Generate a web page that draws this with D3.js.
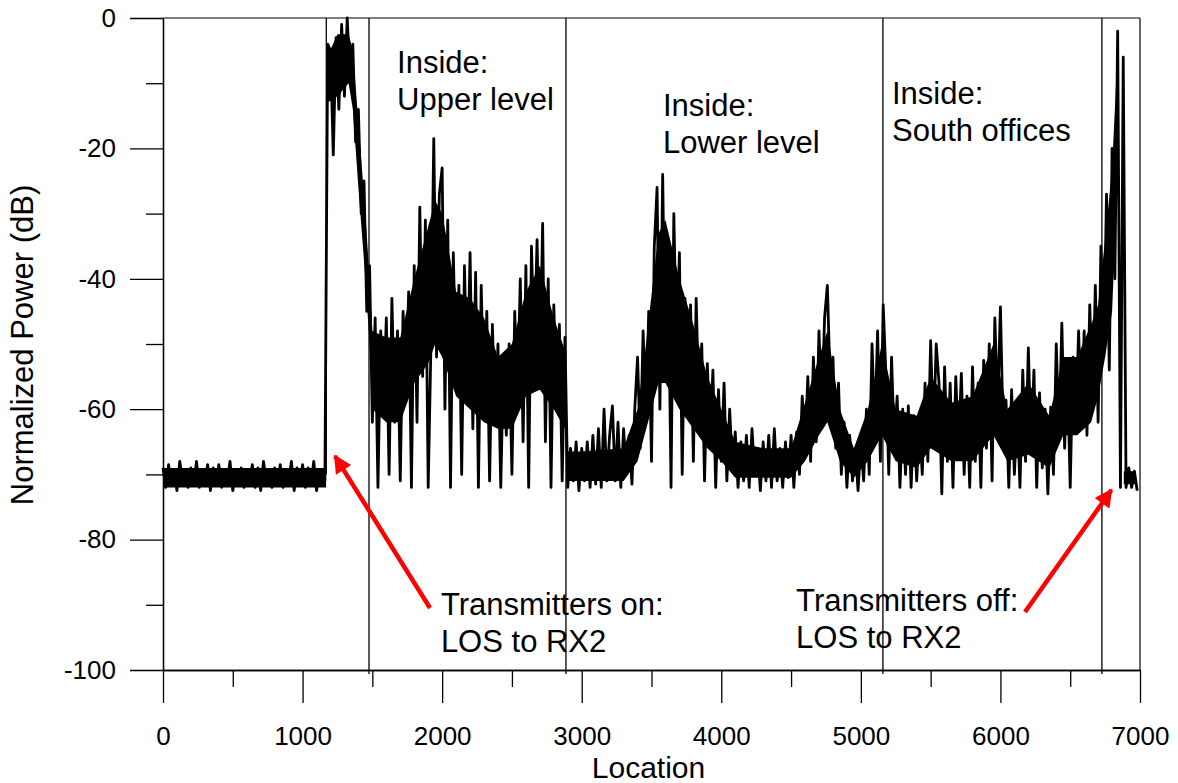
<!DOCTYPE html>
<html>
<head>
<meta charset="utf-8">
<script src="https://cdn.jsdelivr.net/npm/d3@7"></script>
<style>
    body { margin: 0; background: #fff; }
    text { font-family: Arial, "Liberation Sans", sans-serif; fill: #000; }
</style>
</head>
<body>
<div id="chart"></div>
<script>
// measured power, one reading every 20 location units starting at 0 (peaks and dips)
var sampleStart = 0;
var sampleStep = 20;
var power = [
    -69, -72, -68.5, -71.5, -69.5, -72.5, -68, -71, -70, -72,
    -69, -71.5, -68, -72, -69.5, -71, -68.5, -72.5, -69, -71.5,
    -68.5, -72, -69.5, -71, -68, -72.5, -70, -71.5, -69, -72,
    -69.5, -71, -68.5, -72, -69, -72.5, -68, -71, -70, -72,
    -69, -71.5, -68.5, -72, -69.5, -71, -68, -72.5, -69, -71.5,
    -68.5, -72, -69, -71.5, -68, -72.5, -69.5, -71, -71, -4,
    -5, -21, -3, -14, -1, -12, 0, -10, -4, -19,
    -14, -30, -25, -45, -38, -62, -46, -72, -48, -60,
    -46, -70, -43, -62, -48, -71, -45, -58, -42, -72,
    -38, -62, -29, -55, -31, -72, -50, -18.5, -52, -27,
    -23, -60, -31, -72, -36, -55, -41, -70, -38, -58,
    -36, -63, -39, -72, -41, -60, -45, -71, -47, -62,
    -50, -72, -52, -64, -50, -70, -45, -58, -40, -65,
    -38, -72, -35, -52, -34, -55, -31.5, -65, -40, -72,
    -44, -60, -47, -71, -49, -72, -66, -71, -65, -72.5,
    -66, -71, -65, -72, -64, -71.5, -63, -72, -60, -71,
    -64, -59.5, -71, -62, -72, -63, -70, -64, -71.5, -60,
    -52, -66, -48, -62, -45, -68, -35, -26, -60, -24,
    -55, -38, -72, -30, -52, -36, -70, -43, -58, -44,
    -68, -43, -60, -50, -71, -53, -65, -54, -72, -57,
    -68, -56, -71, -60, -69, -63.5, -72, -65, -71, -64,
    -72, -63, -70, -66, -72.5, -65, -71, -64, -72, -63,
    -71, -66, -72, -65, -70.5, -64, -72, -63.5, -70, -58,
    -66, -55, -68, -52, -65, -48, -61, -46, -41, -56,
    -52, -66, -56, -70, -62, -72, -64, -71, -66, -72.5,
    -65, -71, -60, -70, -50, -63, -48, -68, -44, -55,
    -70, -52, -66, -58, -72, -60, -70, -59.5, -72, -61,
    -71, -62, -70, -56, -68, -49.5, -64, -50, -56, -73,
    -53.5, -68, -56, -72, -55, -66, -54.5, -70, -58, -72,
    -53.5, -68, -56, -72, -52.5, -66, -50, -71, -46, -60,
    -44.3, -64, -58.6, -72, -57, -70, -60, -72, -54, -68,
    -50.6, -66, -54, -72, -57.5, -69, -60, -73, -59.7, -70,
    -50, -64, -46.8, -66, -54, -72, -52, -63, -48, -62,
    -48, -64, -44, -60, -41, -62, -35, -52, -27, -54,
    -20, -40, -2, -72, -6, -72, -69, -72, -69.5, -72.5
];

// solid core of the noisy trace: location, upper and lower edge (dB); null breaks the band
var coreLocation = [0, 1160, 1168, 1176, 1250, 1330, 1360, 1400, 1450, 1480, 1500, 1600, 1700, 1800, 1900, 1950,
    2000, 2100, 2200, 2300, 2400, 2500, 2600, 2700, 2800, 2880, 2886, 2892, 3000, 3300, 3400, 3450, 3550, 3600,
    3700, 3800, 3900, 4000, 4100, 4300, 4500, 4600, 4700, 4760, 4850, 4950, 5050, 5150, 5250, 5400, 5500,
    5650, 5800, 5950, 6050, 6200, 6350, 6450, 6550, 6650, 6700, 6750, 6800, 6840, 6850, 6884, 6970];
var coreTop = [-69, -69, -69, -6, -2.5, -2.5, -5, -16, -30, -40, -48, -49, -49, -40, -32, -28,
    -30, -42, -43, -46, -52, -50, -42, -38, -46, -51, -58, -66.5, -66.5, -66, -60, -52, -33, -31,
    -40, -47, -55, -60, -65, -66, -66, -59, -52, -48, -60, -66, -60, -50, -60, -61, -55,
    -59, -58, -50, -60, -56, -61, -52, -52, -47, -44, -34, -23, -5, null, -69.5, -69.5];
var coreBottom = [-72, -72, -72, -13, -12, -10, -14, -26, -40, -50, -60, -62, -62, -56, -53, -50,
    -52, -58, -60, -62, -63, -63, -58, -57, -60, -63, -66, -71, -71, -71, -68, -64, -56, -56,
    -60, -63, -66, -68, -70.5, -70.5, -70.5, -68, -64, -62, -68, -70.5, -68, -64, -68, -69, -66,
    -68, -68, -64, -68, -67, -69, -64, -64, -62, -58, -52, -45, -24, null, -71.5, -71.5];

// section boundaries (location, from dB, to dB)
var dividers = [
    {at: 1170, top: 0, bottom: -70},
    {at: 1476, top: 0, bottom: -100},
    {at: 2887, top: 0, bottom: -100},
    {at: 5158, top: 0, bottom: -100},
    {at: 6727, top: 0, bottom: -100}
];

var xTicks = [0, 1000, 2000, 3000, 4000, 5000, 6000, 7000];
var xMinorTicks = [500, 1500, 2500, 3500, 4500, 5500, 6500];
var yTicks = [-100, -80, -60, -40, -20, 0];
var yMinorTicks = [-90, -70, -50, -30, -10];

// annotation text, anchored at (location, dB) of the first line
var notes = [
    {x: 1677, y: -8.4, lines: ["Inside:", "Upper level"]},
    {x: 3582, y: -15.0, lines: ["Inside:", "Lower level"]},
    {x: 5223, y: -13.2, lines: ["Inside:", "South offices"]},
    {x: 1991, y: -91.5, lines: ["Transmitters on:", "LOS to RX2"]},
    {x: 4536, y: -90.9, lines: ["Transmitters off:", "LOS to RX2"]}
];

var arrows = [
    {x1: 1913, y1: -90.5, x2: 1232, y2: -67.2},
    {x1: 6176, y1: -91.1, x2: 6795, y2: -72.4}
];

var width = 1178, height = 783;
var margin = {top: 18, right: 38, bottom: 113, left: 163};
var innerW = width - margin.left - margin.right;
var innerH = height - margin.top - margin.bottom;

var svg = d3.select("#chart").append("svg")
    .attr("width", width)
    .attr("height", height);

var defs = svg.append("defs");
defs.append("marker")
    .attr("id", "head")
    .attr("viewBox", "0 0 10 10")
    .attr("refX", 9)
    .attr("refY", 5)
    .attr("markerUnits", "userSpaceOnUse")
    .attr("markerWidth", 24)
    .attr("markerHeight", 18)
    .attr("orient", "auto")
    .append("path")
    .attr("d", "M0,0 L10,5 L0,10 z")
    .attr("fill", "#ff0000");

var g = svg.append("g")
    .attr("transform", "translate(" + margin.left + "," + margin.top + ")");

var x = d3.scaleLinear().domain([0, 7000]).range([0, innerW]);
var y = d3.scaleLinear().domain([-100, 0]).range([innerH, 0]);

// frame
g.append("line").attr("x1", 0).attr("x2", innerW).attr("y1", 0).attr("y2", 0)
    .attr("stroke", "#000").attr("stroke-width", 1.2);
g.append("line").attr("x1", innerW).attr("x2", innerW).attr("y1", 0).attr("y2", innerH)
    .attr("stroke", "#000").attr("stroke-width", 1.2);

// section dividers
g.selectAll(".divider")
    .data(dividers)
    .enter().append("line")
    .attr("class", "divider")
    .attr("x1", function(d) { return x(d.at); })
    .attr("x2", function(d) { return x(d.at); })
    .attr("y1", function(d) { return y(d.top); })
    .attr("y2", function(d) { return y(d.bottom) + (d.bottom === -100 ? 4 : 0); })
    .attr("stroke", "#000")
    .attr("stroke-width", 1.3);

// trace: dense core band, then the individual readings on top
var core = coreLocation.map(function(loc, i) {
    return {loc: loc, top: coreTop[i], bottom: coreBottom[i]};
});

var area = d3.area()
    .defined(function(d) { return d.top !== null; })
    .x(function(d) { return x(d.loc); })
    .y0(function(d) { return y(d.bottom); })
    .y1(function(d) { return y(d.top); });

g.append("path")
    .datum(core)
    .attr("fill", "#000")
    .attr("d", area);

var line = d3.line()
    .x(function(d, i) { return x(sampleStart + i * sampleStep); })
    .y(function(d) { return y(d); });

g.append("path")
    .datum(power)
    .attr("fill", "none")
    .attr("stroke", "#000")
    .attr("stroke-width", 2.8)
    .attr("stroke-linejoin", "round")
    .attr("d", line);

// axes
var fmt = function(d) { return String(d); };

g.append("g")
    .attr("transform", "translate(0," + innerH + ")")
    .call(d3.axisBottom(x).tickValues(xTicks).tickSize(33).tickPadding(24).tickSizeOuter(0).tickFormat(fmt));
g.append("g")
    .attr("transform", "translate(0," + innerH + ")")
    .call(d3.axisBottom(x).tickValues(xMinorTicks).tickSize(17).tickSizeOuter(0).tickFormat(""));

g.append("g")
    .call(d3.axisLeft(y).tickValues(yTicks).tickSize(33).tickPadding(14).tickSizeOuter(0).tickFormat(fmt));
g.append("g")
    .call(d3.axisLeft(y).tickValues(yMinorTicks).tickSize(17).tickSizeOuter(0).tickFormat(""));

g.selectAll(".domain").attr("stroke", "#000").attr("stroke-width", 1.3);
g.selectAll(".tick line").attr("stroke", "#000").attr("stroke-width", 1.3);
g.selectAll(".tick text")
    .style("font-size", "26px")
    .style("font-family", "Arial, 'Liberation Sans', sans-serif")
    .attr("fill", "#000");

// axis titles
g.append("text")
    .attr("x", innerW / 2 - 3)
    .attr("y", innerH + 108)
    .attr("text-anchor", "middle")
    .style("font-size", "30px")
    .text("Location");

g.append("text")
    .attr("transform", "translate(" + (-margin.left + 33) + "," + (innerH / 2 + 1) + ") rotate(-90)")
    .attr("text-anchor", "middle")
    .style("font-size", "31px")
    .text("Normalized Power (dB)");

// annotations
var note = g.selectAll(".note")
    .data(notes)
    .enter().append("text")
    .attr("class", "note")
    .attr("x", function(d) { return x(d.x); })
    .attr("y", function(d) { return y(d.y); })
    .style("font-size", "31px");

note.selectAll("tspan")
    .data(function(d) { return d.lines.map(function(t, i) { return {t: t, i: i, x: x(d.x)}; }); })
    .enter().append("tspan")
    .attr("x", function(d) { return d.x; })
    .attr("dy", function(d) { return d.i === 0 ? 0 : 37; })
    .text(function(d) { return d.t; });

g.selectAll(".arrow")
    .data(arrows)
    .enter().append("line")
    .attr("class", "arrow")
    .attr("x1", function(d) { return x(d.x1); })
    .attr("y1", function(d) { return y(d.y1); })
    .attr("x2", function(d) { return x(d.x2); })
    .attr("y2", function(d) { return y(d.y2); })
    .attr("stroke", "#ff0000")
    .attr("stroke-width", 4.5)
    .attr("marker-end", "url(#head)");
</script>
</body>
</html>
